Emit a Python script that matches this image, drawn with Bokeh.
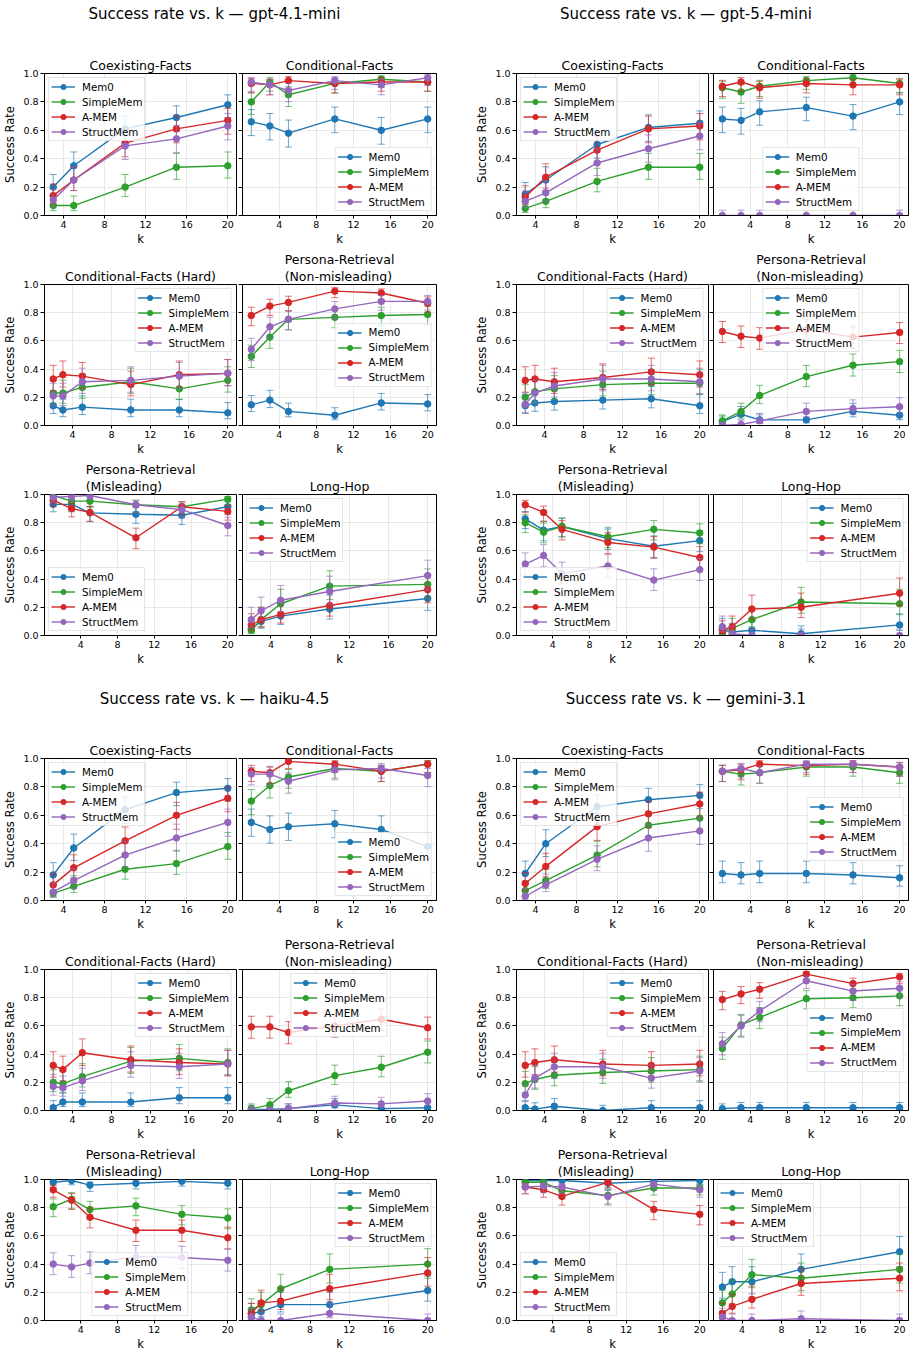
import math

from bokeh.core.properties import value
from bokeh.embed import file_html
from bokeh.layouts import column, row
from bokeh.models import (CustomLabelingPolicy, FixedTicker, Legend, LegendItem,
                          PrintfTickFormatter, Range1d, Title)
from bokeh.plotting import figure
from bokeh.resources import INLINE

FONT = "DejaVu Sans"

# ---------------------------------------------------------------- data
METHODS = ["Mem0", "SimpleMem", "A-MEM", "StructMem"]
COLORS = ["#1f77b4", "#2ca02c", "#d62728", "#9467bd"]

TASKS = [
    "Coexisting-Facts",
    "Conditional-Facts",
    "Conditional-Facts (Hard)",
    "Persona-Retrieval (Non-misleading)",
    "Persona-Retrieval (Misleading)",
    "Long-Hop",
]
TASK_TITLES = [
    "Coexisting-Facts",
    "Conditional-Facts",
    "Conditional-Facts (Hard)",
    "Persona-Retrieval\n(Non-misleading)",
    "Persona-Retrieval\n(Misleading)",
    "Long-Hop",
]

# k values evaluated for each task
K_COEX = [3, 5, 10, 15, 20]
K_COND = [1, 3, 5, 10, 15, 20]
K_HARD = [2, 3, 5, 10, 15, 20]
K_NONMIS = [1, 3, 5, 10, 15, 20]
K_MIS = [1, 3, 5, 10, 15, 20]
K_LONGHOP = [2, 3, 5, 10, 20]
TASK_K = [K_COEX, K_COND, K_HARD, K_NONMIS, K_MIS, K_LONGHOP]

# number of test cases per point (used for the 95% Wilson intervals)
TASK_N = [100, 100, 100, 150, 150, 80]

MODELS = ["gpt-4.1-mini", "gpt-5.4-mini", "haiku-4.5", "gemini-3.1"]

# ---- gpt-4.1-mini
gpt41_coex = {
    "Mem0": [0.20, 0.35, 0.61, 0.69, 0.78],
    "SimpleMem": [0.07, 0.07, 0.20, 0.34, 0.35],
    "A-MEM": [0.14, 0.25, 0.51, 0.61, 0.67],
    "StructMem": [0.11, 0.25, 0.49, 0.54, 0.63],
}
gpt41_cond = {
    "Mem0": [0.66, 0.63, 0.58, 0.68, 0.60, 0.68],
    "SimpleMem": [0.80, 0.94, 0.85, 0.93, 0.96, 0.94],
    "A-MEM": [0.93, 0.92, 0.95, 0.93, 0.94, 0.94],
    "StructMem": [0.94, 0.92, 0.88, 0.95, 0.92, 0.97],
}
gpt41_hard = {
    "Mem0": [0.14, 0.11, 0.13, 0.11, 0.11, 0.09],
    "SimpleMem": [0.23, 0.23, 0.27, 0.31, 0.26, 0.32],
    "A-MEM": [0.33, 0.36, 0.35, 0.29, 0.36, 0.37],
    "StructMem": [0.21, 0.21, 0.31, 0.32, 0.35, 0.37],
}
gpt41_nonmis = {
    "Mem0": [0.147, 0.18, 0.10, 0.073, 0.16, 0.153],
    "SimpleMem": [0.49, 0.627, 0.753, 0.767, 0.78, 0.787],
    "A-MEM": [0.78, 0.847, 0.873, 0.953, 0.94, 0.867],
    "StructMem": [0.54, 0.70, 0.753, 0.827, 0.88, 0.88],
}
gpt41_mis = {
    "Mem0": [0.93, 0.93, 0.87, 0.86, 0.853, 0.913],
    "SimpleMem": [0.993, 0.953, 0.953, 0.927, 0.913, 0.967],
    "A-MEM": [0.96, 0.90, 0.873, 0.693, 0.913, 0.88],
    "StructMem": [0.98, 0.987, 0.993, 0.927, 0.893, 0.78],
}
gpt41_longhop = {
    "Mem0": [0.05, 0.10, 0.1375, 0.1875, 0.2625],
    "SimpleMem": [0.0375, 0.1125, 0.225, 0.35, 0.3625],
    "A-MEM": [0.075, 0.1125, 0.15, 0.2125, 0.325],
    "StructMem": [0.1125, 0.175, 0.25, 0.3125, 0.425],
}

# ---- gpt-5.4-mini
gpt54_coex = {
    "Mem0": [0.15, 0.25, 0.50, 0.62, 0.65],
    "SimpleMem": [0.05, 0.10, 0.24, 0.34, 0.34],
    "A-MEM": [0.13, 0.27, 0.46, 0.61, 0.63],
    "StructMem": [0.10, 0.16, 0.37, 0.47, 0.56],
}
gpt54_cond = {
    "Mem0": [0.68, 0.67, 0.73, 0.76, 0.70, 0.80],
    "SimpleMem": [0.90, 0.87, 0.91, 0.95, 0.97, 0.93],
    "A-MEM": [0.91, 0.94, 0.90, 0.93, 0.92, 0.92],
    "StructMem": [0.0, 0.0, 0.0, 0.0, 0.0, 0.0],
}
gpt54_hard = {
    "Mem0": [0.14, 0.16, 0.17, 0.18, 0.19, 0.14],
    "SimpleMem": [0.20, 0.24, 0.26, 0.29, 0.30, 0.30],
    "A-MEM": [0.32, 0.33, 0.31, 0.34, 0.38, 0.36],
    "StructMem": [0.15, 0.23, 0.28, 0.33, 0.33, 0.31],
}
gpt54_nonmis = {
    "Mem0": [0.027, 0.08, 0.04, 0.04, 0.10, 0.073],
    "SimpleMem": [0.033, 0.10, 0.213, 0.347, 0.427, 0.453],
    "A-MEM": [0.667, 0.633, 0.62, 0.68, 0.627, 0.66],
    "StructMem": [0.0, 0.007, 0.033, 0.10, 0.12, 0.133],
}
gpt54_mis = {
    "Mem0": [0.827, 0.747, 0.773, 0.687, 0.633, 0.673],
    "SimpleMem": [0.80, 0.733, 0.773, 0.70, 0.753, 0.727],
    "A-MEM": [0.927, 0.873, 0.753, 0.66, 0.627, 0.553],
    "StructMem": [0.507, 0.567, 0.44, 0.493, 0.393, 0.467],
}
gpt54_longhop = {
    "Mem0": [0.05, 0.025, 0.0375, 0.0125, 0.075],
    "SimpleMem": [0.0125, 0.05, 0.1125, 0.2375, 0.225],
    "A-MEM": [0.0375, 0.0625, 0.1875, 0.2, 0.3],
    "StructMem": [0.0625, 0.0125, 0.0, 0.0, 0.0],
}

# ---- haiku-4.5
haiku_coex = {
    "Mem0": [0.18, 0.37, 0.64, 0.76, 0.79],
    "SimpleMem": [0.05, 0.10, 0.22, 0.26, 0.38],
    "A-MEM": [0.11, 0.23, 0.42, 0.60, 0.72],
    "StructMem": [0.06, 0.14, 0.32, 0.44, 0.55],
}
haiku_cond = {
    "Mem0": [0.55, 0.50, 0.52, 0.54, 0.50, 0.38],
    "SimpleMem": [0.70, 0.81, 0.87, 0.93, 0.91, 0.96],
    "A-MEM": [0.91, 0.90, 0.98, 0.96, 0.91, 0.96],
    "StructMem": [0.89, 0.89, 0.84, 0.92, 0.93, 0.88],
}
haiku_hard = {
    "Mem0": [0.02, 0.06, 0.06, 0.06, 0.09, 0.09],
    "SimpleMem": [0.20, 0.19, 0.24, 0.35, 0.37, 0.34],
    "A-MEM": [0.32, 0.29, 0.41, 0.36, 0.34, 0.33],
    "StructMem": [0.17, 0.16, 0.21, 0.32, 0.31, 0.33],
}
haiku_nonmis = {
    "Mem0": [0.007, 0.007, 0.013, 0.04, 0.013, 0.02],
    "SimpleMem": [0.013, 0.04, 0.14, 0.247, 0.307, 0.413],
    "A-MEM": [0.593, 0.593, 0.553, 0.60, 0.647, 0.587],
    "StructMem": [0.0, 0.0, 0.013, 0.053, 0.047, 0.067],
}
haiku_mis = {
    "Mem0": [0.98, 0.993, 0.96, 0.973, 0.987, 0.973],
    "SimpleMem": [0.807, 0.86, 0.787, 0.813, 0.753, 0.727],
    "A-MEM": [0.927, 0.853, 0.733, 0.64, 0.64, 0.587],
    "StructMem": [0.40, 0.38, 0.407, 0.453, 0.447, 0.427],
}
haiku_longhop = {
    "Mem0": [0.05, 0.0625, 0.1125, 0.1125, 0.2125],
    "SimpleMem": [0.075, 0.1125, 0.225, 0.3625, 0.40],
    "A-MEM": [0.05, 0.125, 0.1375, 0.225, 0.3375],
    "StructMem": [0.025, 0.0, 0.0, 0.05, 0.0],
}

# ---- gemini-3.1
gemini_coex = {
    "Mem0": [0.19, 0.40, 0.66, 0.71, 0.74],
    "SimpleMem": [0.07, 0.14, 0.32, 0.53, 0.58],
    "A-MEM": [0.12, 0.24, 0.52, 0.61, 0.68],
    "StructMem": [0.03, 0.11, 0.29, 0.44, 0.49],
}
gemini_cond = {
    "Mem0": [0.19, 0.18, 0.19, 0.19, 0.18, 0.16],
    "SimpleMem": [0.91, 0.89, 0.90, 0.94, 0.94, 0.90],
    "A-MEM": [0.91, 0.92, 0.96, 0.95, 0.96, 0.94],
    "StructMem": [0.91, 0.93, 0.90, 0.96, 0.96, 0.94],
}
gemini_hard = {
    "Mem0": [0.02, 0.01, 0.03, 0.0, 0.02, 0.02],
    "SimpleMem": [0.19, 0.22, 0.25, 0.27, 0.28, 0.29],
    "A-MEM": [0.32, 0.34, 0.36, 0.33, 0.32, 0.33],
    "StructMem": [0.11, 0.23, 0.31, 0.31, 0.23, 0.28],
}
gemini_nonmis = {
    "Mem0": [0.013, 0.02, 0.02, 0.02, 0.02, 0.02],
    "SimpleMem": [0.44, 0.607, 0.66, 0.793, 0.80, 0.813],
    "A-MEM": [0.787, 0.827, 0.86, 0.967, 0.90, 0.947],
    "StructMem": [0.473, 0.60, 0.707, 0.92, 0.847, 0.867],
}
gemini_mis = {
    "Mem0": [0.993, 0.993, 0.993, 0.973, 0.987, 0.993],
    "SimpleMem": [0.98, 0.98, 0.92, 0.887, 0.94, 0.94],
    "A-MEM": [0.947, 0.927, 0.88, 0.98, 0.787, 0.753],
    "StructMem": [0.947, 0.953, 0.947, 0.88, 0.967, 0.927],
}
gemini_longhop = {
    "Mem0": [0.2375, 0.275, 0.275, 0.3625, 0.4875],
    "SimpleMem": [0.125, 0.1875, 0.325, 0.3, 0.3625],
    "A-MEM": [0.05, 0.1, 0.15, 0.2625, 0.3],
    "StructMem": [0.025, 0.0, 0.0, 0.0125, 0.0],
}

RESULTS = [
    [gpt41_coex, gpt41_cond, gpt41_hard, gpt41_nonmis, gpt41_mis, gpt41_longhop],
    [gpt54_coex, gpt54_cond, gpt54_hard, gpt54_nonmis, gpt54_mis, gpt54_longhop],
    [haiku_coex, haiku_cond, haiku_hard, haiku_nonmis, haiku_mis, haiku_longhop],
    [gemini_coex, gemini_cond, gemini_hard, gemini_nonmis, gemini_mis, gemini_longhop],
]

LEGEND_LOC = [
    ["top_left", "bottom_right", "top_right", "center_right", "bottom_left", "top_left"],
    ["top_left", "bottom_center", "top_right", "top_center", "bottom_left", "top_right"],
    ["top_left", "bottom_right", "top_right", "top_center", "bottom_center", "top_right"],
    ["top_left", "center_right", "top_right", "center_right", "bottom_left", "top_left"],
]

X_TICKS = [4, 8, 12, 16, 20]
Y_TICKS = [0.0, 0.2, 0.4, 0.6, 0.8, 1.0]


# ---------------------------------------------------------------- helpers
def wilson(p, n, z=1.96):
    denom = 1 + z * z / n
    centre = (p + z * z / (2 * n)) / denom
    half = z / denom * math.sqrt(p * (1 - p) / n + z * z / (4 * n * n))
    return max(0.0, centre - half), min(1.0, centre + half)


# width, left border, right border for the four panel columns
COLS = [(237, 42, 1), (235, 5, 36), (237, 42, 1), (205, 4, 6)]
ROW_H = 210
TOP_B = 35
BOTTOM_B = 33

# shared y axis: the right-hand panel of each pair keeps its ticks but shows no labels
NO_LABELS = CustomLabelingPolicy(code="return []")


def panel(model_i, task_i, col):
    ks = TASK_K[task_i]
    n = TASK_N[task_i]
    data = RESULTS[model_i][task_i]
    pad = 0.05 * (max(ks) - min(ks))
    w, bl, br = COLS[col]
    left = col in (0, 2)

    p = figure(
        width=w, height=ROW_H, title=None,
        min_border_left=bl, min_border_right=br,
        min_border_top=TOP_B, min_border_bottom=BOTTOM_B,
        x_range=Range1d(min(ks) - pad, max(ks) + pad), y_range=Range1d(0, 1),
        toolbar_location=None, output_backend="svg",
    )
    p.background_fill_color = "white"
    p.outline_line_color = "black"
    p.outline_line_width = 1

    p.xaxis.ticker = FixedTicker(ticks=X_TICKS)
    p.yaxis.ticker = FixedTicker(ticks=Y_TICKS)
    p.yaxis.formatter = PrintfTickFormatter(format="%.1f")
    for ax in p.xaxis + p.yaxis:
        ax.axis_line_color = "black"
        ax.major_tick_line_color = "black"
        ax.major_tick_out = 4
        ax.major_tick_in = 0
        ax.minor_tick_line_color = None
        ax.major_label_text_font = FONT
        ax.major_label_text_font_size = "9.5px"
        ax.major_label_text_color = "black"
        ax.major_label_standoff = 2
        ax.axis_label_text_font = FONT
        ax.axis_label_text_font_size = "11.6px"
        ax.axis_label_text_font_style = "normal"
        ax.axis_label_text_color = "black"
    p.xaxis.major_tick_out = 3
    p.xaxis.axis_label = "k"
    p.xaxis.axis_label_standoff = 1
    if left:
        p.yaxis.axis_label = "Success Rate"
        p.yaxis.axis_label_standoff = 3
    else:
        p.yaxis.major_label_text_font_size = "0px"
        p.yaxis.major_label_standoff = 0
        p.yaxis.major_label_policy = NO_LABELS

    p.grid.grid_line_color = "#b0b0b0"
    p.grid.grid_line_alpha = 0.35
    p.grid.grid_line_width = 0.8

    p.add_layout(
        Title(text=TASK_TITLES[task_i], align="center", text_font=FONT,
              text_font_size="12.5px", text_font_style="normal", text_color="black",
              standoff=2, text_line_height=1.1),
        "above",
    )

    items = []
    for method, color in zip(METHODS, COLORS):
        vals = data[method]
        bounds = [wilson(v, n) for v in vals]
        lo = [b[0] for b in bounds]
        hi = [b[1] for b in bounds]
        p.segment(x0=ks, y0=lo, x1=ks, y1=hi, line_color=color, line_width=1, line_alpha=0.65)
        p.scatter(x=ks + ks, y=lo + hi, marker="dash", size=7, line_color=color,
                  line_width=1, line_alpha=0.65)
        ln = p.line(ks, vals, line_color=color, line_width=1.4)
        dots = p.scatter(ks, vals, marker="circle", size=6.5, fill_color=color, line_color=color)
        items.append(LegendItem(label=method, renderers=[ln, dots]))

    legend = Legend(
        items=items, location=LEGEND_LOC[model_i][task_i],
        label_text_font=FONT, label_text_font_size="10.3px", label_text_color="black",
        glyph_width=24, glyph_height=13, label_height=13, label_width=58, label_standoff=7,
        spacing=2, padding=2, margin=4,
        border_line_color="#cccccc", border_line_width=1,
        background_fill_color="white", background_fill_alpha=0.8,
    )
    p.add_layout(legend)
    return p


def suptitle_strip(height, texts, centre_from_top):
    s = figure(
        width=914, height=height, x_range=Range1d(0, 914), y_range=Range1d(0, height),
        toolbar_location=None, output_backend="svg", min_border=0,
        x_axis_location=None, y_axis_location=None,
    )
    s.outline_line_color = None
    s.grid.visible = False
    s.text(x=[214, 685.5], y=[height - centre_from_top] * 2, text=texts,
           text_align="center", text_baseline="middle",
           text_font=value(FONT), text_font_size="15px", text_color="black")
    return s


rows = []
for block, (ma, mb) in enumerate([(0, 1), (2, 3)]):
    strip_h = 38 if block == 0 else 55
    rows.append(suptitle_strip(strip_h, [f"Success rate vs. k \u2014 {MODELS[ma]}",
                                         f"Success rate vs. k \u2014 {MODELS[mb]}"],
                               13 if block == 0 else 30))
    for r in range(3):
        rows.append(row(
            panel(ma, 2 * r, 0), panel(ma, 2 * r + 1, 1),
            panel(mb, 2 * r, 2), panel(mb, 2 * r + 1, 3),
        ))

page = column(*rows)
open("out.html", "w").write(file_html(page, INLINE))
